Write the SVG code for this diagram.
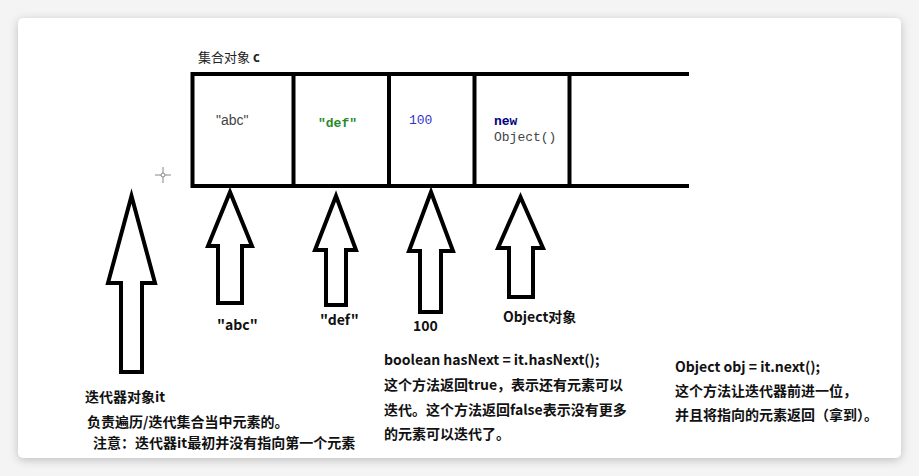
<svg xmlns="http://www.w3.org/2000/svg" width="919" height="476" viewBox="0 0 919 476">
<style>
.box{fill:none;stroke:#000;stroke-width:4}
.arrow{fill:#fff;stroke:#000;stroke-width:4;stroke-linejoin:miter}
.lbl{font-family:"Noto Sans CJK SC","Liberation Sans",sans-serif;font-weight:bold;font-size:14px;fill:#111}
.txt{font-family:"Noto Sans CJK SC","Liberation Sans",sans-serif;font-weight:bold;font-size:14px;fill:#111}
.mono{font-family:"Liberation Mono","DejaVu Sans Mono",monospace;font-size:13px}
</style>
<defs>
<filter id="sh" x="-5%" y="-5%" width="110%" height="110%">
<feGaussianBlur stdDeviation="5"/>
</filter>
</defs>
<rect x="0" y="0" width="919" height="476" fill="#f4f4f4"/>
<rect x="18" y="20" width="883" height="440" rx="5" fill="#9a9a9a" filter="url(#sh)" opacity="0.6"/>
<rect x="18" y="18" width="883" height="440" rx="5" fill="#fff"/>

<g id="collection">
<text x="198" y="62" font-family="Noto Sans CJK SC,Liberation Sans,sans-serif" font-size="13" fill="#222">集合对象 <tspan font-weight="bold">c</tspan></text>
<path class="box" d="M689 74 H192.5 V186 H689 M293.5 74 V186 M389 74 V186 M474.5 74 V186 M569.5 74 V186"/>
</g>
<g id="cell-abc"><text x="216" y="125" font-family="Liberation Sans,sans-serif" font-size="14" fill="#444">"abc"</text></g>
<g id="cell-def"><text class="mono" x="318" y="127" font-weight="bold" fill="#2a8a2a">"def"</text></g>
<g id="cell-100"><text class="mono" x="409" y="124" fill="#3333cc">100</text></g>
<g id="cell-obj"><text class="mono" x="494" y="125" font-weight="bold" fill="#000080">new</text><text class="mono" x="494" y="141" fill="#444">Object()</text></g>

<g id="cursor" stroke="#888" stroke-width="1">
<path d="M155 175 H171 M163 167 V183"/><circle cx="163" cy="175" r="2" fill="#fff"/>
</g>

<g id="connectors">
<polygon class="arrow" points="131.5,196 155,283 142,283 142,372 121,372 121,283 108,283"/>
<polygon class="arrow" points="230,192 252,246 242,246 242,303 218,303 218,246 208,246"/>
<polygon class="arrow" points="336,196 356,250 346,250 346,305 326,305 326,250 315,250"/>
<polygon class="arrow" points="431,192 453,251 441,251 441,312 420,312 420,251 409,251"/>
<polygon class="arrow" points="520.5,197 543,248 533,248 533,297 509,297 509,248 498,248"/>
</g>

<g id="label-abc"><text class="lbl" x="217" y="330">"abc"</text></g>
<g id="label-def"><text class="lbl" x="320" y="325">"def"</text></g>
<g id="label-100"><text class="lbl" x="413" y="331">100</text></g>
<g id="label-obj"><text class="lbl" x="503" y="322">Object对象</text></g>

<g id="iterator">
<text class="txt" x="85" y="402">迭代器对象it</text>
<text class="txt" x="87" y="427">负责遍历/迭代集合当中元素的。</text>
<text class="txt" x="93" y="448">注意：迭代器it最初并没有指向第一个元素</text>
</g>
<g id="hasnext">
<text class="txt" x="384" y="365" font-size="14.5">boolean hasNext = it.hasNext();</text>
<text class="txt" x="384" y="390">这个方法返回true，表示还有元素可以</text>
<text class="txt" x="384" y="415">迭代。这个方法返回false表示没有更多</text>
<text class="txt" x="384" y="439">的元素可以迭代了。</text>
</g>
<g id="next">
<text class="txt" x="675" y="372">Object obj = it.next();</text>
<text class="txt" x="675" y="396">这个方法让迭代器前进一位，</text>
<text class="txt" x="675" y="420">并且将指向的元素返回（拿到）。</text>
</g>
</svg>
